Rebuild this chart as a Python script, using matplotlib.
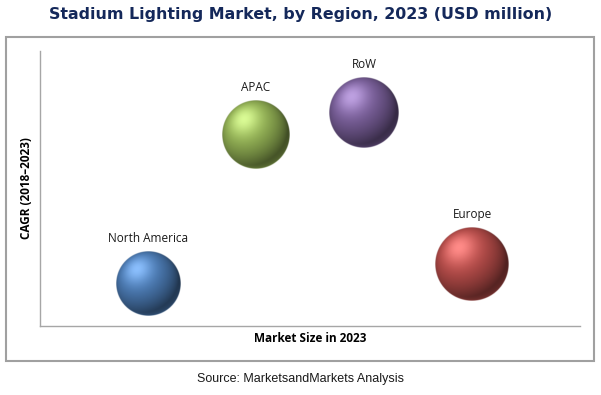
import numpy as np
import matplotlib
matplotlib.use('Agg')
import matplotlib.pyplot as plt
from matplotlib.patches import Rectangle
from matplotlib.colors import to_rgb

# Data (no scale shown, unit-less positions)
regions = ['North America', 'APAC', 'RoW', 'Europe']
market_size = [2.0, 4.0, 6.0, 8.0]
cagr = [1.53, 6.95, 7.75, 2.25]
bubble_value = [65, 68, 70, 74]
colors = ['#4F81BD', '#9BBB59', '#8064A2', '#C0504D']


def sphere_image(color, n=200):
    # soft shaded sphere with highlight at the upper left
    base = np.array(to_rgb(color))
    v = np.linspace(-1, 1, n)
    x, y = np.meshgrid(v, -v)
    r2 = x ** 2 + y ** 2
    z = np.sqrt(np.clip(1 - r2, 0, 1))
    light = np.array([-0.35, 0.45, 0.82])
    light = light / np.linalg.norm(light)
    d = np.clip(x * light[0] + y * light[1] + z * light[2], 0, 1)
    shade = 0.42 + 0.62 * d
    spec = d ** 10 * 0.22
    rim = (1 - z) ** 2 * np.clip(-y, 0, 1) * 0.30
    rgb = base[None, None, :] * (shade + rim)[..., None] + spec[..., None]
    rgb = np.clip(rgb, 0, 1)
    edge = np.sqrt(r2)
    alpha = np.clip((1 - edge) * n / 2, 0, 1)
    return np.dstack([rgb, alpha])


fig = plt.figure(figsize=(6.01, 3.95), dpi=100)
fig.patch.set_facecolor('white')

# outer frame
fig.patches.append(Rectangle((6 / 601, 34 / 395), 588 / 601, 324 / 395,
                             transform=fig.transFigure, fill=False,
                             edgecolor='#A0A0A0', linewidth=1.5))

ax = fig.add_axes([40 / 601, 69 / 395, 540 / 601, 275 / 395])
ax.set_xlim(0, 10)
ax.set_ylim(0, 10)
for side in ['top', 'right']:
    ax.spines[side].set_visible(False)
for side in ['left', 'bottom']:
    ax.spines[side].set_color('#A6A6A6')
    ax.spines[side].set_linewidth(1.0)
ax.set_xticks([])
ax.set_yticks([])

for name, xv, yv, s, c in zip(regions, market_size, cagr, bubble_value, colors):
    r_px = s / 2
    cx, cy = ax.transData.transform((xv, yv))
    (x0, y0) = ax.transData.inverted().transform((cx - r_px, cy - r_px))
    (x1, y1) = ax.transData.inverted().transform((cx + r_px, cy + r_px))
    ax.imshow(sphere_image(c), extent=(x0, x1, y0, y1), origin='upper',
              interpolation='bilinear', zorder=3)
    ax.annotate(name, (xv, yv), xytext=(0, (r_px + 13) * 72 / 100),
                textcoords='offset points', ha='center', va='center',
                fontsize=8.5, family='Open Sans', color='#1A1A1A')

ax.set_aspect('auto')
ax.set_xlim(0, 10)
ax.set_ylim(0, 10)

ax.set_xlabel('Market Size in 2023', fontsize=8.5, fontweight='bold',
              family='Open Sans', labelpad=4)
ax.set_ylabel('CAGR (2018\u20132023)', fontsize=8.5, fontweight='bold',
              family='Open Sans', labelpad=5)

fig.text(0.5, 1 - 15 / 395, 'Stadium Lighting Market, by Region, 2023 (USD million)',
         ha='center', va='center', fontsize=11.4, fontweight='bold',
         family='DejaVu Sans', color='#14285A')
fig.text(0.5, 1 - 379 / 395, 'Source: MarketsandMarkets Analysis',
         ha='center', va='center', fontsize=9, family='Liberation Sans',
         color='#1A1A1A')

fig.savefig('out.png', dpi=100, facecolor='white')
